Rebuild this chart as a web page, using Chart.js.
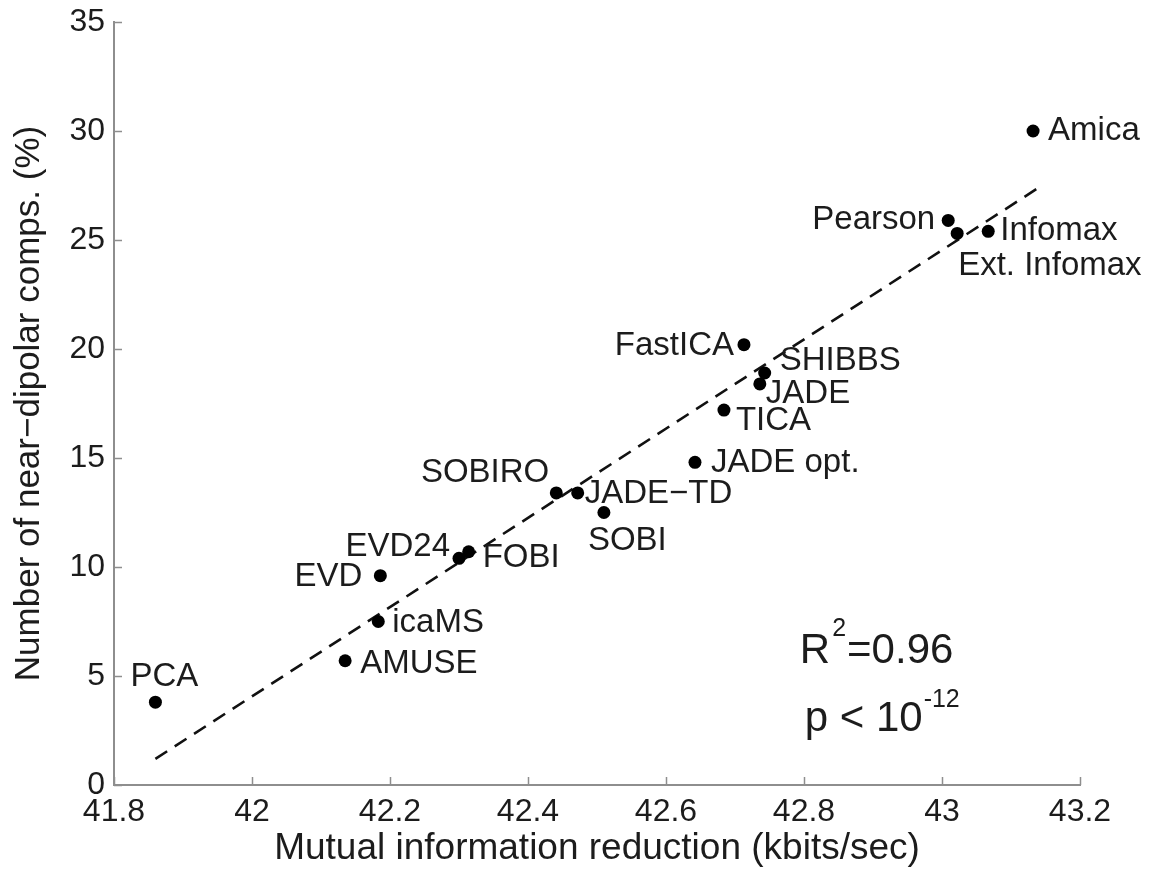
<!DOCTYPE html>
<html>
<head>
<meta charset="utf-8">
<title>Near-dipolar components vs mutual information reduction</title>
<script src="https://cdn.jsdelivr.net/npm/chart.js"></script>
<style>
  html, body { margin: 0; padding: 0; background: #fff; }
  #chart-wrap { width: 1151px; height: 872px; }
</style>
</head>
<body>
<div id="chart-wrap"><canvas id="chart-area" width="1151" height="872"></canvas></div>
<script>
var algorithms = ['PCA', 'AMUSE', 'icaMS', 'EVD', 'EVD24', 'FOBI', 'SOBIRO', 'JADE\u2212TD', 'SOBI',
	'JADE opt.', 'TICA', 'JADE', 'SHIBBS', 'FastICA', 'Pearson', 'Infomax', 'Ext. Infomax', 'Amica'];
var mirValues = [41.86, 42.135, 42.183, 42.186, 42.3, 42.314, 42.441, 42.472, 42.51,
	42.642, 42.684, 42.736, 42.743, 42.713, 43.009, 43.067, 43.022, 43.132];
var dipolarValues = [3.8, 5.7, 7.5, 9.6, 10.4, 10.7, 13.4, 13.4, 12.5,
	14.8, 17.2, 18.4, 18.9, 20.2, 25.9, 25.4, 25.3, 30.0];

// end points of the least-squares line
var fitX = [41.86, 43.14];
var fitY = [1.2, 27.4];

var xTicks = [41.8, 42, 42.2, 42.4, 42.6, 42.8, 43, 43.2];
var xTickLabels = ['41.8', '42', '42.2', '42.4', '42.6', '42.8', '43', '43.2'];
var yTicks = [0, 5, 10, 15, 20, 25, 30, 35];

var fitStats = { r2: '0.96', pExp: '-12' };

// where each name sits next to its dot: [dx, dy, textAlign] in pixels
var labelPlacement = [
	[9, -25, 'center'], [15, 3, 'left'], [14, 1, 'left'], [-18, 1, 'right'],
	[-9, -11, 'right'], [14, 6, 'left'], [-7, -20, 'right'], [7, 1, 'left'],
	[-16, 28, 'left'], [16, 1, 'left'], [12, 11, 'left'], [6, 10, 'left'],
	[15, -12, 'left'], [-10, 1, 'right'], [-13, 0, 'right'], [12, 0, 'left'],
	[1, 32, 'left'], [15, 0, 'left']
];

var FONT = '"Liberation Sans", Arial, Helvetica, sans-serif';
var TEXT = '#1c1c1c';
var AXIS = '#8e8e8e';

var points = mirValues.map(function (v, i) { return { x: v, y: dipolarValues[i] }; });
var fitLine = fitX.map(function (v, i) { return { x: v, y: fitY[i] }; });

var annotate = {
	id: 'annotate',
	afterDraw: function (chart) {
		var ctx = chart.ctx;
		var xs = chart.scales.x, ys = chart.scales.y;
		var area = chart.chartArea;

		// short inward tick marks on both axes
		ctx.save();
		ctx.strokeStyle = AXIS;
		ctx.lineWidth = 1.5;
		ctx.beginPath();
		xTicks.forEach(function (t) {
			var px = Math.round(xs.getPixelForValue(t)) + 0.5;
			ctx.moveTo(px, area.bottom);
			ctx.lineTo(px, area.bottom - 8);
		});
		yTicks.forEach(function (t) {
			var py = Math.round(ys.getPixelForValue(t)) + 0.5;
			ctx.moveTo(area.left, py);
			ctx.lineTo(area.left + 8, py);
		});
		ctx.stroke();

		// algorithm names
		ctx.fillStyle = TEXT;
		ctx.font = '33px ' + FONT;
		ctx.textBaseline = 'middle';
		algorithms.forEach(function (name, i) {
			var px = xs.getPixelForValue(mirValues[i]);
			var py = ys.getPixelForValue(dipolarValues[i]);
			var p = labelPlacement[i];
			ctx.textAlign = p[2];
			ctx.fillText(name, px + p[0], py + p[1]);
		});

		// goodness of fit
		ctx.textAlign = 'left';
		ctx.textBaseline = 'alphabetic';
		var x0 = xs.getPixelForValue(42.794);
		var y1 = ys.getPixelForValue(5.6);
		ctx.font = '42px ' + FONT;
		ctx.fillText('R', x0, y1);
		var w = ctx.measureText('R').width;
		ctx.font = '25px ' + FONT;
		ctx.fillText('2', x0 + w + 2, y1 - 27);
		var w2 = ctx.measureText('2').width;
		ctx.font = '42px ' + FONT;
		ctx.fillText('=' + fitStats.r2, x0 + w + w2 + 3, y1);

		var x1 = xs.getPixelForValue(42.801);
		var y2 = ys.getPixelForValue(2.5);
		ctx.fillText('p < 10', x1, y2);
		var w3 = ctx.measureText('p < 10').width;
		ctx.font = '25px ' + FONT;
		ctx.fillText(fitStats.pExp, x1 + w3 + 1, y2 - 24);
		ctx.restore();
	}
};

var config = {
	type: 'scatter',
	data: {
		datasets: [{
			label: 'Algorithms',
			data: points,
			backgroundColor: '#000',
			borderWidth: 0,
			pointRadius: 6.5,
			pointHoverRadius: 6.5
		}, {
			type: 'line',
			label: 'Fit',
			data: fitLine,
			borderColor: '#111',
			borderWidth: 2.6,
			borderDash: [14, 9],
			pointRadius: 0,
			fill: false
		}]
	},
	options: {
		responsive: false,
		animation: false,
		devicePixelRatio: 1,
		layout: { padding: { top: 22, right: 71, left: 0, bottom: 0 } },
		plugins: {
			legend: { display: false },
			tooltip: { enabled: false }
		},
		scales: {
			x: {
				type: 'linear',
				min: 41.8,
				max: 43.2,
				afterBuildTicks: function (scale) {
					scale.ticks = xTicks.map(function (v) { return { value: v }; });
				},
				afterFit: function (scale) {
					scale.height = 87;
					scale.paddingLeft = 0;
					scale.paddingRight = 0;
				},
				grid: { display: false, drawTicks: false },
				border: { display: true, color: AXIS, width: 2 },
				ticks: {
					padding: 8,
					color: TEXT,
					font: { family: FONT, size: 32 },
					maxRotation: 0,
					callback: function (value) {
						var i = xTicks.indexOf(value);
						return i >= 0 ? xTickLabels[i] : '';
					}
				},
				title: {
					display: true,
					text: 'Mutual information reduction (kbits/sec)',
					color: TEXT,
					font: { family: FONT, size: 37 },
					padding: { top: 0, bottom: 1 }
				}
			},
			y: {
				type: 'linear',
				min: 0,
				max: 35,
				afterBuildTicks: function (scale) {
					scale.ticks = yTicks.map(function (v) { return { value: v }; });
				},
				afterFit: function (scale) {
					scale.width = 114;
					scale.paddingTop = 0;
					scale.paddingBottom = 0;
				},
				grid: { display: false, drawTicks: false },
				border: { display: true, color: AXIS, width: 2 },
				ticks: {
					padding: 9,
					color: TEXT,
					font: { family: FONT, size: 32 }
				},
				title: {
					display: true,
					text: 'Number of near\u2212dipolar comps. (%)',
					color: TEXT,
					font: { family: FONT, size: 35 },
					padding: { top: 8, bottom: 0 }
				}
			}
		}
	},
	plugins: [annotate]
};

window.onload = function () {
	var ctx = document.getElementById('chart-area').getContext('2d');
	window.myScatter = new Chart(ctx, config);
};
</script>
</body>
</html>
